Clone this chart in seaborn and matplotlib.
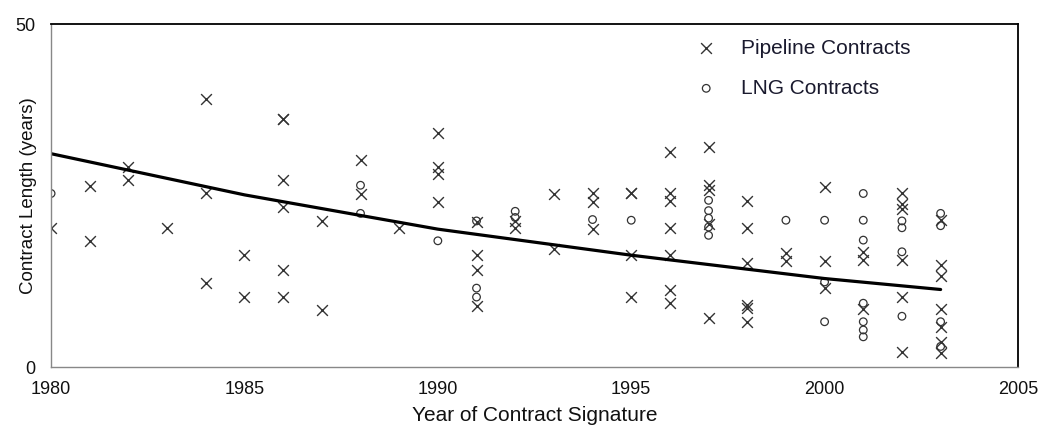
import matplotlib
matplotlib.use("Agg")
import matplotlib.pyplot as plt
import pandas as pd
import seaborn as sns

# values (year of signature, contract length in years)
pipeline_years = [
    1980, 1981, 1981, 1982, 1982, 1983, 1984, 1984, 1984, 1985, 1985,
    1986, 1986, 1986, 1986, 1986, 1986, 1987, 1987, 1988, 1988, 1989,
    1990, 1990, 1990, 1990, 1991, 1991, 1991, 1991, 1992, 1992, 1993, 1993,
    1994, 1994, 1994, 1995, 1995, 1995, 1995,
    1996, 1996, 1996, 1996, 1996, 1996, 1996,
    1997, 1997, 1997, 1997, 1997,
    1998, 1998, 1998, 1998, 1998, 1998,
    1999, 1999, 2000, 2000, 2000, 2001, 2001, 2001,
    2002, 2002, 2002, 2002, 2002, 2002,
    2003, 2003, 2003, 2003, 2003, 2003, 2003,
]
pipeline_lengths = [
    20.2, 26.4, 18.3, 29.1, 27.2, 20.2, 39.1, 25.3, 12.2, 16.3, 10.2,
    36.2, 36.2, 27.2, 23.3, 14.1, 10.2, 21.3, 8.3, 30.2, 25.2, 20.2,
    34.1, 29.1, 28.1, 24.1, 21.2, 16.3, 14.1, 8.9, 21.3, 20.2, 25.2, 17.2,
    25.3, 24.0, 20.1, 25.3, 25.3, 16.3, 10.2,
    31.3, 25.4, 24.2, 20.2, 16.3, 11.3, 9.3,
    32.1, 26.5, 25.8, 20.9, 7.1,
    24.2, 20.2, 15.2, 9.0, 8.6, 6.5,
    16.6, 15.4, 26.3, 15.4, 11.5, 16.8, 15.6, 8.5,
    25.3, 23.8, 23.0, 15.6, 10.2, 2.2,
    21.4, 14.9, 13.3, 8.4, 5.8, 3.6, 2.1,
]

lng_years = [
    1980, 1988, 1988, 1990, 1991, 1991, 1991, 1992, 1992, 1994, 1995,
    1997, 1997, 1997, 1997, 1997, 1999, 2000, 2000, 2000,
    2001, 2001, 2001, 2001, 2001, 2001, 2001,
    2002, 2002, 2002, 2002, 2003, 2003, 2003, 2003,
]
lng_lengths = [
    25.3, 26.5, 22.4, 18.4, 21.3, 11.5, 10.2, 22.7, 21.8, 21.5, 21.4,
    24.3, 22.8, 21.7, 20.4, 19.2, 21.4, 21.4, 12.4, 6.6,
    25.3, 21.4, 18.5, 9.3, 6.6, 5.4, 4.4,
    21.3, 20.3, 16.8, 7.4, 22.4, 20.6, 6.6, 3.0,
]

# exponential trend line as drawn in the reference
trend_years = [1980, 1985, 1990, 1995, 2000, 2003]
trend_lengths = [31.1, 25.1, 20.1, 16.3, 12.9, 11.3]

x_ticks = [1980, 1985, 1990, 1995, 2000, 2005]
y_ticks = [0, 50]

sns.set_style("white")
plt.rcParams["font.family"] = ["Liberation Sans", "DejaVu Sans"]

pipe = pd.DataFrame({"year": pipeline_years, "length": pipeline_lengths})
lng = pd.DataFrame({"year": lng_years, "length": lng_lengths})
trend = pd.DataFrame({"year": trend_years, "length": trend_lengths})

fig = plt.figure(figsize=(10.43, 4.30), dpi=100)
ax = fig.add_axes([0.049, 0.1465, 0.927, 0.7975])

sns.lineplot(data=trend, x="year", y="length", color="black", linewidth=2.3, ax=ax)
sns.scatterplot(data=pipe, x="year", y="length", marker="x", s=60, color="#333333",
                linewidth=1.0, label="Pipeline Contracts", ax=ax)
sns.scatterplot(data=lng, x="year", y="length", marker="o", s=30, facecolors="none",
                edgecolors="#333333", linewidths=0.9, label="LNG Contracts", ax=ax)

ax.set_xlim(1980, 2005)
ax.set_ylim(0, 50)
ax.set_xticks(x_ticks)
ax.set_yticks(y_ticks)
ax.tick_params(axis="both", direction="out", length=7, width=1, color="#777777",
               labelsize=13, pad=3, labelcolor="#111111")
ax.tick_params(axis="y", pad=4)
ax.set_xlabel("Year of Contract Signature", fontsize=15, color="#111111", labelpad=6)
ax.set_ylabel("Contract Length (years)", fontsize=13.5, color="#111111")
ax.yaxis.set_label_coords(-0.0145, 0.5)

for side in ["left", "bottom"]:
    ax.spines[side].set_color("#888888")
    ax.spines[side].set_linewidth(1.0)
for side in ["top", "right"]:
    ax.spines[side].set_color("black")
    ax.spines[side].set_linewidth(1.3)

ax.legend(loc="upper left", bbox_to_anchor=(0.656, 0.987), frameon=False,
          fontsize=15, handlelength=1.0, handletextpad=1.15, labelspacing=1.0,
          borderpad=0, labelcolor="#1a1a2e")

fig.savefig("out.png", dpi=100)
